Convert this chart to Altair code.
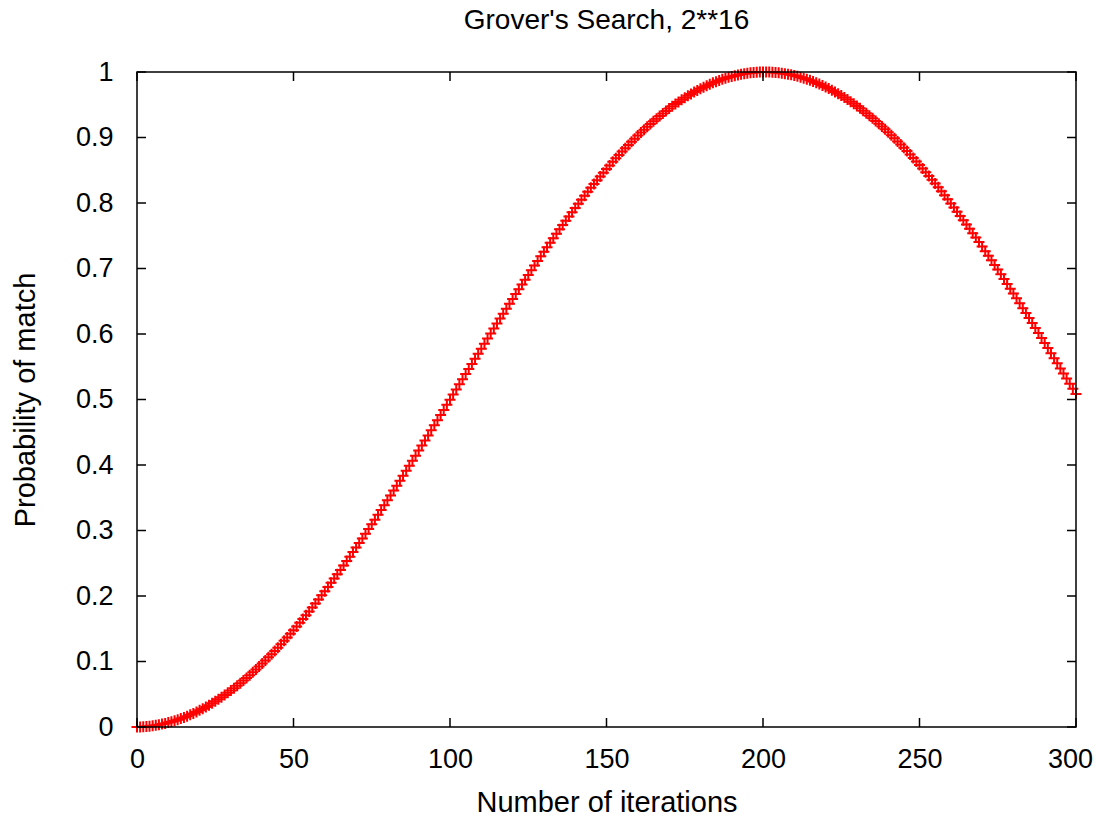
import altair as alt
import pandas as pd

# Iteration index (x) and probability of match (y)
iterations = list(range(0, 301))
probability = [
    0.0000, 0.0001, 0.0004, 0.0007, 0.0012, 0.0018, 0.0026, 0.0034, 0.0044, 0.0055,
    0.0067, 0.0081, 0.0095, 0.0111, 0.0128, 0.0146, 0.0165, 0.0186, 0.0207, 0.0230,
    0.0254, 0.0279, 0.0306, 0.0333, 0.0362, 0.0392, 0.0423, 0.0455, 0.0488, 0.0522,
    0.0557, 0.0593, 0.0631, 0.0669, 0.0709, 0.0750, 0.0791, 0.0834, 0.0878, 0.0922,
    0.0968, 0.1015, 0.1063, 0.1111, 0.1161, 0.1211, 0.1263, 0.1315, 0.1368, 0.1422,
    0.1477, 0.1533, 0.1590, 0.1648, 0.1706, 0.1765, 0.1825, 0.1886, 0.1947, 0.2010,
    0.2073, 0.2136, 0.2201, 0.2266, 0.2331, 0.2398, 0.2465, 0.2533, 0.2601, 0.2670,
    0.2739, 0.2809, 0.2879, 0.2950, 0.3022, 0.3094, 0.3166, 0.3239, 0.3313, 0.3386,
    0.3461, 0.3535, 0.3610, 0.3685, 0.3761, 0.3836, 0.3913, 0.3989, 0.4066, 0.4142,
    0.4220, 0.4297, 0.4374, 0.4452, 0.4530, 0.4607, 0.4685, 0.4763, 0.4841, 0.4919,
    0.4998, 0.5076, 0.5154, 0.5232, 0.5310, 0.5388, 0.5466, 0.5543, 0.5621, 0.5698,
    0.5776, 0.5853, 0.5930, 0.6006, 0.6083, 0.6159, 0.6235, 0.6310, 0.6385, 0.6460,
    0.6535, 0.6609, 0.6683, 0.6756, 0.6829, 0.6902, 0.6974, 0.7045, 0.7116, 0.7187,
    0.7257, 0.7326, 0.7395, 0.7463, 0.7531, 0.7598, 0.7664, 0.7730, 0.7795, 0.7860,
    0.7924, 0.7987, 0.8049, 0.8110, 0.8171, 0.8231, 0.8290, 0.8349, 0.8406, 0.8463,
    0.8519, 0.8574, 0.8628, 0.8682, 0.8734, 0.8786, 0.8836, 0.8886, 0.8934, 0.8982,
    0.9029, 0.9075, 0.9120, 0.9163, 0.9206, 0.9248, 0.9288, 0.9328, 0.9367, 0.9404,
    0.9441, 0.9476, 0.9510, 0.9543, 0.9576, 0.9606, 0.9636, 0.9665, 0.9693, 0.9719,
    0.9744, 0.9768, 0.9791, 0.9813, 0.9834, 0.9853, 0.9871, 0.9888, 0.9904, 0.9919,
    0.9932, 0.9944, 0.9955, 0.9965, 0.9974, 0.9981, 0.9987, 0.9992, 0.9996, 0.9999,
    1.0000, 1.0000, 0.9999, 0.9996, 0.9993, 0.9988, 0.9982, 0.9975, 0.9966, 0.9957,
    0.9946, 0.9934, 0.9920, 0.9906, 0.9890, 0.9873, 0.9855, 0.9836, 0.9816, 0.9794,
    0.9771, 0.9747, 0.9722, 0.9696, 0.9668, 0.9640, 0.9610, 0.9579, 0.9547, 0.9514,
    0.9480, 0.9445, 0.9409, 0.9371, 0.9333, 0.9293, 0.9253, 0.9211, 0.9169, 0.9125,
    0.9080, 0.9035, 0.8988, 0.8940, 0.8892, 0.8842, 0.8792, 0.8741, 0.8688, 0.8635,
    0.8581, 0.8526, 0.8470, 0.8414, 0.8356, 0.8298, 0.8239, 0.8179, 0.8118, 0.8056,
    0.7994, 0.7931, 0.7868, 0.7803, 0.7738, 0.7673, 0.7606, 0.7539, 0.7472, 0.7403,
    0.7335, 0.7265, 0.7195, 0.7125, 0.7054, 0.6983, 0.6911, 0.6838, 0.6765, 0.6692,
    0.6618, 0.6544, 0.6470, 0.6395, 0.6320, 0.6244, 0.6168, 0.6092, 0.6016, 0.5939,
    0.5862, 0.5785, 0.5708, 0.5631, 0.5553, 0.5475, 0.5397, 0.5320, 0.5242, 0.5163,
    0.5085,
]
x_ticks = [0, 50, 100, 150, 200, 250, 300]
y_ticks = [0, 0.1, 0.2, 0.3, 0.4, 0.5, 0.6, 0.7, 0.8, 0.9, 1.0]

title_text = "Grover's Search, 2**16"
x_title = "Number of iterations"
y_title = "Probability of match"

W, H = 939, 655
FONT = "Liberation Sans"
FS = 27
TFS = 29
TICK = 9

df = pd.DataFrame({"x": iterations, "y": probability})
xt = pd.DataFrame({"x": x_ticks})
yt = pd.DataFrame({"y": y_ticks})
frame_df = pd.DataFrame({"a": [0]})

xs = alt.Scale(domain=[0, 300], nice=False, zero=False)
ys = alt.Scale(domain=[0, 1], nice=False, zero=False)

x_axis = alt.Axis(
    values=x_ticks, title=x_title, labelPadding=40, labelBaseline="alphabetic",
    labelFlush=False,
    labelOffset={"condition": {"test": "datum.value == 300", "value": -6}, "value": 0},
    titleY=84, titleBaseline="alphabetic",
)
y_axis = alt.Axis(
    values=y_ticks, format=".1~f", title=y_title, labelPadding=24, labelFlush=False,
    titleX=-103, titleY=H / 2, titleBaseline="alphabetic", titleAngle=270,
)
X = alt.X("x:Q", scale=xs, axis=x_axis)
Y = alt.Y("y:Q", scale=ys, axis=y_axis)

points = alt.Chart(df).mark_point(
    shape="M-1,0H1M0,-1V1", filled=False, color="#ff0000",
    strokeWidth=2, size=121, opacity=1,
).encode(x=X, y=Y)

tick_style = dict(color="black", strokeWidth=1.5)
bottom = alt.Chart(xt).mark_rule(**tick_style).encode(
    x=X, y=alt.value(H), y2=alt.value(H - TICK))
top = alt.Chart(xt).mark_rule(**tick_style).encode(
    x=X, y=alt.value(0), y2=alt.value(TICK))
left = alt.Chart(yt).mark_rule(**tick_style).encode(
    y=Y, x=alt.value(0), x2=alt.value(TICK))
right = alt.Chart(yt).mark_rule(**tick_style).encode(
    y=Y, x=alt.value(W), x2=alt.value(W - TICK))
border = alt.Chart(frame_df).mark_rect(filled=False, stroke="black", strokeWidth=1.5).encode(
    x=alt.value(0), x2=alt.value(W), y=alt.value(0), y2=alt.value(H))

chart = alt.layer(points, bottom, top, left, right, border).properties(
    width=W, height=H,
    autosize=alt.AutoSizeParams(type="none"),
    padding={"left": 129, "top": 64, "right": 17, "bottom": 90},
    title=alt.TitleParams(
        title_text, font=FONT, fontSize=28, fontWeight="normal", color="black",
        baseline="alphabetic", frame="group", anchor="middle", offset=1,
    ),
).configure_view(strokeWidth=0).configure_axis(
    ticks=False, tickSize=0, domain=False, grid=False,
    labelFont=FONT, labelFontSize=FS, labelColor="black",
    titleFont=FONT, titleFontSize=TFS, titleFontWeight="normal", titleColor="black",
)

chart.save("out.html", embed_options={"renderer": "svg", "actions": False})
